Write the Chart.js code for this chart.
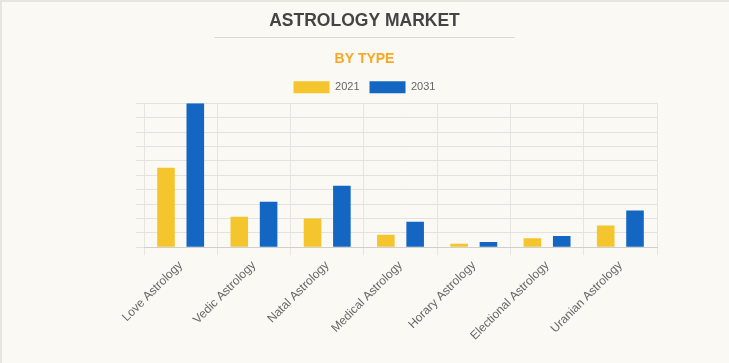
<!DOCTYPE html>
<html>
<head>
<meta charset="utf-8">
<script src="https://cdn.jsdelivr.net/npm/chart.js@4/dist/chart.umd.min.js"></script>
<style>
  html, body { margin: 0; padding: 0; background: #faf9f4; overflow: hidden; }
  canvas { display: block; }
</style>
</head>
<body>
<canvas id="c" width="729" height="363"></canvas>
<script>
const categories = ["Love Astrology", "Vedic Astrology", "Natal Astrology", "Medical Astrology", "Horary Astrology", "Electional Astrology", "Uranian Astrology"];
const seriesNames = ["2021", "2031"];
const values2021 = [5.52, 2.12, 2.0, 0.88, 0.25, 0.62, 1.52];
const values2031 = [10.0, 3.17, 4.28, 1.77, 0.37, 0.79, 2.55];
const titleText = "ASTROLOGY MARKET";
const subtitleText = "BY TYPE";

const decor = {
  id: 'decor',
  beforeDraw(chart) {
    const ctx = chart.ctx;
    ctx.save();
    ctx.fillStyle = '#faf9f4';
    ctx.fillRect(0, 0, chart.width, chart.height);
    ctx.strokeStyle = '#e6e5e0';
    ctx.lineWidth = 2;
    ctx.beginPath();
    ctx.moveTo(1, chart.height);
    ctx.lineTo(1, 1);
    ctx.lineTo(chart.width, 1);
    ctx.stroke();
    ctx.restore();
  },
  afterDraw(chart) {
    const ctx = chart.ctx;
    const cx = chart.width / 2;
    ctx.save();
    ctx.strokeStyle = '#d9d8d3';
    ctx.lineWidth = 1;
    ctx.beginPath();
    ctx.moveTo(cx - 150, 37.5);
    ctx.lineTo(cx + 150, 37.5);
    ctx.stroke();
    ctx.restore();
  }
};

new Chart(document.getElementById('c'), {
  type: 'bar',
  data: {
    labels: categories,
    datasets: [
      { label: seriesNames[0], data: values2021, backgroundColor: '#f5c52e', borderWidth: 0 },
      { label: seriesNames[1], data: values2031, backgroundColor: '#1366c2', borderWidth: 0 }
    ]
  },
  options: {
    responsive: false,
    animation: false,
    devicePixelRatio: 1,
    layout: { padding: { left: 72, right: 72, top: 0, bottom: 17 } },
    datasets: { bar: { categoryPercentage: 0.8, barPercentage: 0.6 } },
    plugins: {
      title: {
        display: true, text: titleText, color: '#444444',
        font: { family: '"Liberation Sans", Arial, sans-serif', size: 17.5, weight: 'bold' },
        padding: { top: 11, bottom: 0 }
      },
      subtitle: {
        display: true, text: subtitleText, color: '#f8a825',
        font: { family: '"Liberation Sans", Arial, sans-serif', size: 14, weight: 'bold' },
        padding: { top: 18.5, bottom: 4 }
      },
      legend: {
        display: true,
        labels: { boxWidth: 36, boxHeight: 12, color: '#666666', font: { family: '"Liberation Sans", Arial, sans-serif', size: 11 } }
      },
      tooltip: { enabled: false }
    },
    scales: {
      x: {
        grid: { color: '#e6e5e1', offset: true, tickLength: 8 },
        border: { color: '#cfcfcf' },
        ticks: { color: '#666666', minRotation: 45, maxRotation: 45, font: { family: '"Liberation Sans", Arial, sans-serif', size: 12 } }
      },
      y: {
        min: 0, max: 10,
        grid: { color: '#e3e2de', tickLength: 8 },
        border: { display: false },
        ticks: { display: false, stepSize: 1 },
        afterFit(scale) { scale.width = 72; }
      }
    }
  },
  plugins: [decor]
});
</script>
</body>
</html>
